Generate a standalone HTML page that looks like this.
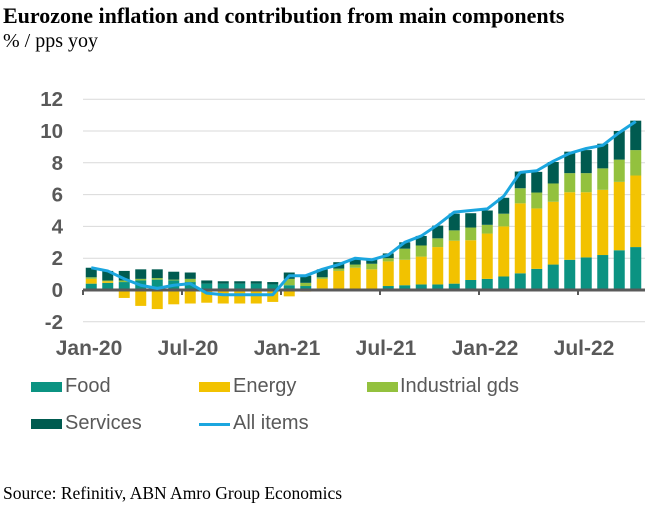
<!DOCTYPE html>
<html><head><meta charset="utf-8"><style>
body{margin:0;background:#fff;width:664px;height:508px;overflow:hidden;position:relative}
.t{position:absolute;font-family:"Liberation Serif",serif;color:#000;white-space:nowrap}
.lg{position:absolute;font-family:"Liberation Sans",sans-serif;font-size:20px;color:#595959}
.sw{position:absolute;width:31px;height:10px}
</style></head><body>
<div class="t" style="left:3px;top:3px;font-size:22px;font-weight:bold">Eurozone inflation and contribution from main components</div>
<div class="t" style="left:3px;top:30px;font-size:20px">% / pps yoy</div>
<svg id="chart" width="664" height="370" style="position:absolute;left:0;top:0"></svg>
<div class="sw" style="left:31px;top:382px;background:#0B9382"></div>
<div class="lg" style="left:65px;top:375px">Food</div>
<div class="sw" style="left:199px;top:382px;background:#F2C200"></div>
<div class="lg" style="left:233px;top:375px">Energy</div>
<div class="sw" style="left:367px;top:382px;background:#93C13E"></div>
<div class="lg" style="left:400px;top:375px">Industrial gds</div>
<div class="sw" style="left:31px;top:419px;background:#005B50"></div>
<div class="lg" style="left:65px;top:412px">Services</div>
<div class="sw" style="left:199px;top:423px;height:3px;background:#1BA6DF"></div>
<div class="lg" style="left:233px;top:412px">All items</div>
<div class="t" style="left:3px;top:483px;font-size:17.5px">Source: Refinitiv, ABN Amro Group Economics</div>
<script>
const months=["Jan-20","Feb-20","Mar-20","Apr-20","May-20","Jun-20","Jul-20","Aug-20","Sep-20","Oct-20","Nov-20","Dec-20","Jan-21","Feb-21","Mar-21","Apr-21","May-21","Jun-21","Jul-21","Aug-21","Sep-21","Oct-21","Nov-21","Dec-21","Jan-22","Feb-22","Mar-22","Apr-22","May-22","Jun-22","Jul-22","Aug-22","Sep-22","Oct-22"];
const food=[0.4,0.45,0.5,0.6,0.65,0.6,0.5,0.4,0.4,0.4,0.4,0.35,0.3,0.25,0.1,0.05,0.05,0.05,0.25,0.3,0.35,0.35,0.4,0.63,0.7,0.85,1.05,1.33,1.6,1.9,2.05,2.2,2.5,2.7];
const energy=[0.3,0.1,-0.5,-1.0,-1.2,-0.9,-0.85,-0.8,-0.85,-0.85,-0.85,-0.75,-0.4,-0.1,0.6,1.15,1.35,1.25,1.55,1.6,1.75,2.35,2.7,2.5,2.85,3.15,4.4,3.8,3.95,4.25,4.1,4.1,4.3,4.5];
const indgds=[0.1,0.05,0.1,0.1,0.1,0.05,0.2,0.0,0.0,0.0,0.0,0.0,0.4,0.2,0.1,0.15,0.2,0.35,0.2,0.7,0.7,0.55,0.65,0.8,0.55,0.8,0.95,1.0,1.15,1.2,1.2,1.35,1.4,1.6];
const services=[0.6,0.6,0.6,0.6,0.55,0.5,0.4,0.2,0.15,0.15,0.15,0.15,0.4,0.45,0.5,0.4,0.35,0.3,0.3,0.4,0.6,0.8,1.05,0.9,0.9,1.0,1.05,1.3,1.35,1.35,1.45,1.55,1.8,1.85];
const allItems=[1.4,1.2,0.7,0.3,0.1,0.3,0.4,-0.2,-0.3,-0.3,-0.3,-0.3,0.9,0.9,1.3,1.6,2.0,1.9,2.2,3.0,3.4,4.1,4.9,5.0,5.1,5.9,7.4,7.5,8.1,8.6,8.9,9.1,9.9,10.6];
const yTicks=[-2,0,2,4,6,8,10,12];
const xTickLabels=["Jan-20","Jul-20","Jan-21","Jul-21","Jan-22","Jul-22"];
const NS="http://www.w3.org/2000/svg",svg=document.getElementById("chart");
const x0=83,step=16.5,bw=11;
const y=v=>290-v*15.9;
const xc=i=>x0+step*(i+0.5);
function mk(t,a){const e=document.createElementNS(NS,t);for(const k in a)e.setAttribute(k,a[k]);svg.appendChild(e);return e;}
yTicks.forEach(v=>{
 const g=mk("line",{x1:x0,x2:645,y1:y(v),y2:y(v),stroke:"#d9d9d9","stroke-width":1});
 
 
 const t=mk("text",{x:63,y:y(v)+7,"text-anchor":"end","font-family":"Liberation Sans, sans-serif","font-size":20.5,"font-weight":"bold",fill:"#595959"});
 t.textContent=v;
 
 
});
const series=[[food,"#0B9382","food"],[energy,"#F2C200","energy"],[indgds,"#93C13E","industrial"],[services,"#005B50","services"]];
months.forEach((m,i)=>{
 let pos=0,neg=0;
 series.forEach(([arr,c,n])=>{
  const v=arr[i];let a,b;
  if(v>=0){a=pos;b=pos+v;pos=b;}else{a=neg+v;b=neg;neg=a;}
  const r=mk("rect",{x:xc(i)-bw/2,y:y(b),width:bw,height:Math.max(0,y(a)-y(b)),fill:c});
  
  
 });
});
const ax=mk("line",{x1:x0,x2:645,y1:y(0),y2:y(0),stroke:"#595959","stroke-width":3});


xTickLabels.forEach(l=>{
 const i=months.indexOf(l),xx=x0+step*i;
 const tk=mk("line",{x1:xx,x2:xx,y1:y(0),y2:y(0)+5,stroke:"#595959","stroke-width":2});
 
 
 const t=mk("text",{x:xx+6,y:355,"text-anchor":"middle","font-family":"Liberation Sans, sans-serif","font-size":21,"font-weight":"bold",fill:"#595959"});
 t.textContent=l;
 
 
});
const ln=mk("polyline",{points:allItems.map((v,i)=>xc(i)+","+y(v)).join(" "),fill:"none",stroke:"#1BA6DF","stroke-width":3,"stroke-linejoin":"round"});


</script>
</body></html>
